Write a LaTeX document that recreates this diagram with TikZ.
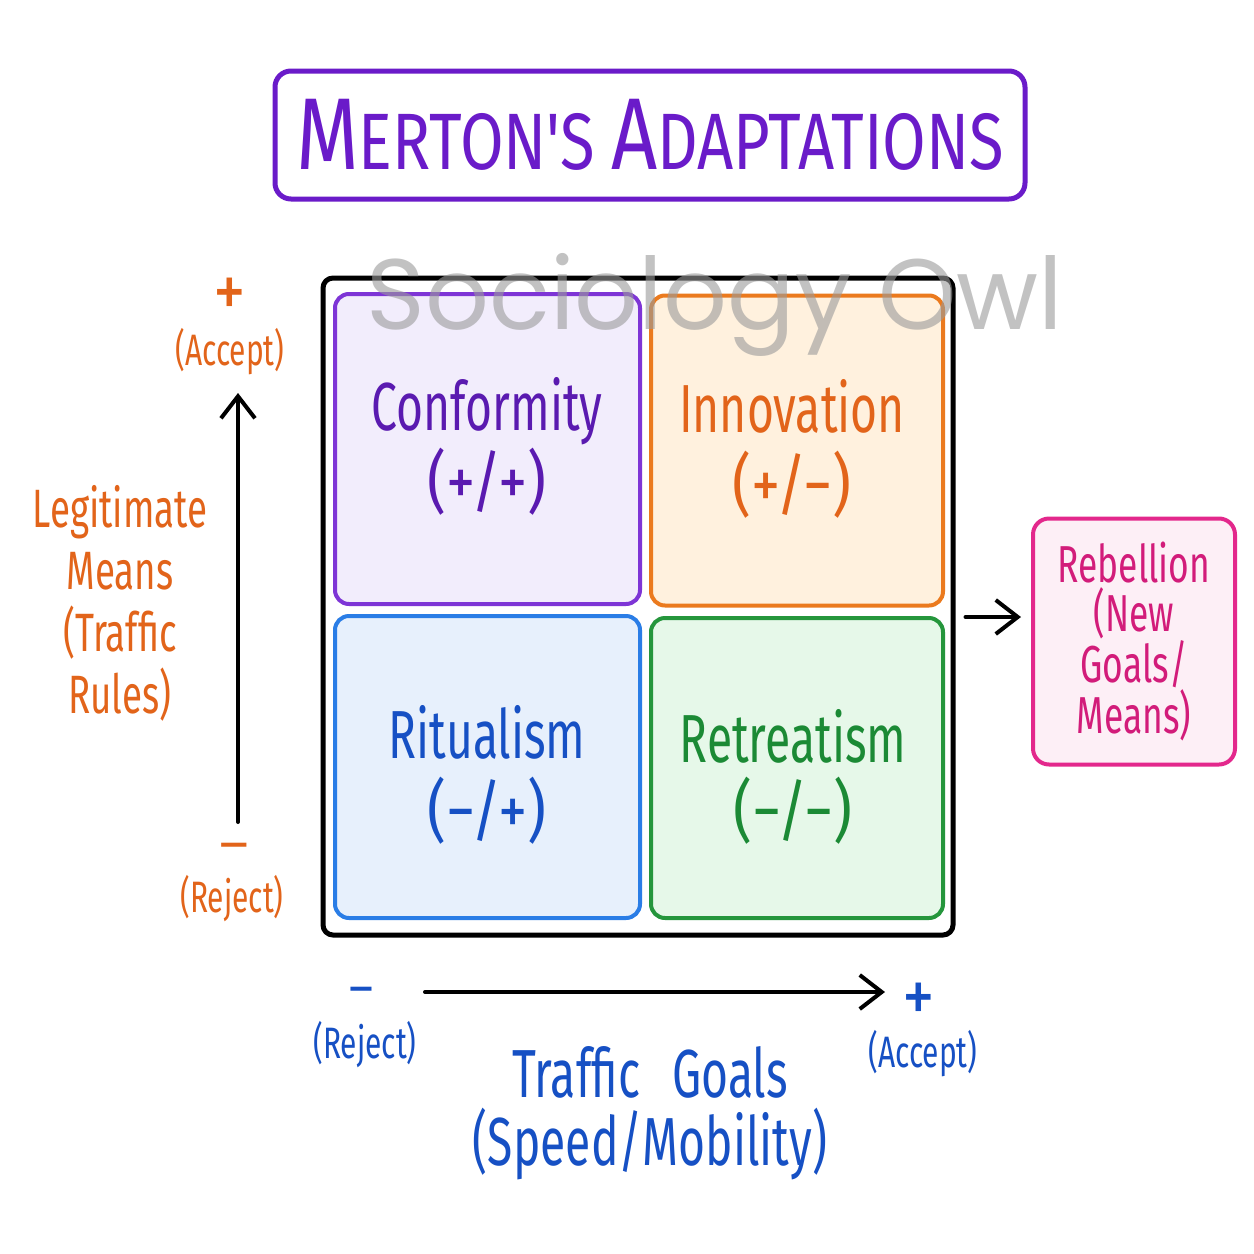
\documentclass[tikz,border=0pt]{standalone}
\usepackage{fontspec}
\usepackage{graphicx}
\setmainfont{Fira Sans}
\newfontfamily\hand{Fira Sans}[FakeStretch=0.68]
\newfontfamily\handw{Fira Sans}[FakeStretch=0.86]
\newfontfamily\handt{Fira Sans}[FakeStretch=0.79]
\newfontfamily\wmfont{Poppins}
\usetikzlibrary{arrows.meta}
\definecolor{titlepurple}{HTML}{6A1BC9}
\definecolor{cpurple}{HTML}{7E35D6}
\definecolor{tpurple}{HTML}{5A1AB0}
\definecolor{fpurple}{HTML}{F2EDFC}
\definecolor{corange}{HTML}{EB7A1E}
\definecolor{torange}{HTML}{E2641A}
\definecolor{forange}{HTML}{FFF1DE}
\definecolor{cblue}{HTML}{2A7DE6}
\definecolor{tblue}{HTML}{1650C4}
\definecolor{fblue}{HTML}{E7F0FC}
\definecolor{cgreen}{HTML}{25963C}
\definecolor{tgreen}{HTML}{1B8A35}
\definecolor{fgreen}{HTML}{E6F8E9}
\definecolor{cpink}{HTML}{E3288C}
\definecolor{tpink}{HTML}{D21C7A}
\definecolor{fpink}{HTML}{FDEFF6}
\definecolor{wmgray}{HTML}{9A9A9A}
\begin{document}
\begin{tikzpicture}[x=0.5pt,y=-0.5pt,
  quad/.style={draw=#1, line width=2pt, rounded corners=7pt, minimum width=152.5pt, minimum height=155pt, inner sep=0pt},
  qname/.style={font=\hand\fontsize{34}{40}\selectfont, text=#1, anchor=base, inner sep=0pt},
  qsign/.style={font=\handw\fontsize{34}{40}\selectfont, text=#1, anchor=base, inner sep=0pt},
  axtxt/.style={font=\hand\fontsize{22}{26}\selectfont, text=#1, inner sep=0pt},
  plussign/.style={font=\handw\fontsize{38}{40}\selectfont, text=#1, inner sep=0pt, text height=23pt, text depth=-4pt},
  minussign/.style={font=\handw\fontsize{26}{28}\selectfont, text=#1, inner sep=0pt, text height=14pt, text depth=-9pt},
  axarrow/.style={line width=2pt, line cap=round, -{Straight Barb[length=11pt,width=17pt,line width=2pt]}}
]
\fill[white] (0,0) rectangle (1254,1254);
\useasboundingbox (0,0) rectangle (1254,1254);

% title
\node[draw=titlepurple, line width=2.5pt, rounded corners=8pt, minimum width=375pt, minimum height=64pt, inner sep=0pt,
      text=titlepurple, font=\handt] (title) at (650,135)
  {\fontsize{51}{55}\selectfont M\fontsize{40}{44}\selectfont ERTON'S\hspace{8pt}\fontsize{51}{55}\selectfont A\fontsize{40}{44}\selectfont DAPTATIONS};

% outer grid
\node[draw=black, line width=2.5pt, rounded corners=5pt, minimum width=315pt, minimum height=328.5pt, inner sep=0pt] (grid) at (638,606.5) {};

% quadrants
\node[quad=cpurple, fill=fpurple] (conf) at (487.5,449) {};
\node[quad=corange, fill=forange, minimum width=146pt] (inno) at (797,450.5) {};
\node[quad=cblue, fill=fblue, minimum height=151pt] (ritu) at (487.5,767) {};
\node[quad=cgreen, fill=fgreen, minimum width=146pt, minimum height=150pt] (retr) at (797,768) {};

\node[qname=tpurple] (confname) at (487,430) {Conformity};
\node[qsign=tpurple] (confsign) at (487,505) {(+/+)};
\node[qname=torange] (innoname) at (792,432) {Innovation};
\node[qsign=torange] (innosign) at (792,508) {(+/−)};
\node[qname=tblue] (rituname) at (487,758) {Ritualism};
\node[qsign=tblue] (ritusign) at (487,834) {(−/+)};
\node[qname=tgreen] (retrname) at (793,762) {Retreatism};
\node[qsign=tgreen] (retrsign) at (793,834) {(−/−)};

% rebellion
\node[draw=cpink, fill=fpink, line width=2pt, rounded corners=8pt, minimum width=101pt, minimum height=123pt, inner sep=0pt,
      align=center, text=tpink, font=\hand\fontsize{26}{24.5}\selectfont] (reb) at (1134,641.5)
  {Rebellion\\(New\\Goals/\\Means)};
\coordinate (ry) at (0,617);
\draw[axarrow] ([xshift=5pt]grid.east |- ry) -- ([xshift=-5pt]reb.west |- ry);

% vertical axis
\coordinate (vb) at (238,822);
\coordinate (vt) at (238,393);
\draw[axarrow] (vb) -- (vt);
\node[plussign=torange] (vplus) at (230,294) {+};
\node[axtxt=torange] (vacc) at (230,352) {(Accept)};
\node[minussign=torange] (vminus) at (234,848) {\scalebox{1.5}[1]{−}};
\node[axtxt=torange] (vrej) at (232,899) {(Reject)};
\node[align=center, text=torange, font=\hand\fontsize{27}{31}\selectfont, inner sep=0pt] (vlab) at (120,603)
  {Legitimate\\Means\\(Traffic\\Rules)};

% horizontal axis
\coordinate (hl) at (425,992);
\coordinate (hr) at (885,992);
\draw[axarrow] (hl) -- (hr);
\node[minussign=tblue] (hminus) at (361,992) {\scalebox{1.25}[1]{−}};
\node[axtxt=tblue] (hrej) at (365,1045) {(Reject)};
\node[plussign=tblue] (hplus) at (919,999) {+};
\node[axtxt=tblue] (hacc) at (923,1054) {(Accept)};
\node[align=center, text=tblue, font=\hand\fontsize{34}{34}\selectfont, inner sep=0pt] (hlab) at (650,1113)
  {Traffic\hspace{16pt}Goals\\(Speed/Mobility)};

% watermark
\node[text=wmgray, opacity=0.6, font=\wmfont\fontsize{50}{55}\selectfont, inner sep=0pt] (wm) at (715,305) {Sociology Owl};
\end{tikzpicture}
\end{document}
